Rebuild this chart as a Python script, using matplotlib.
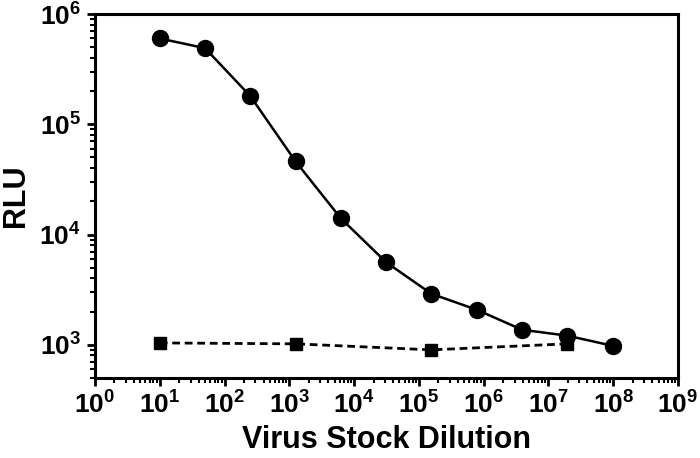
import math
import matplotlib
matplotlib.use("Agg")
import matplotlib.pyplot as plt
from matplotlib.ticker import LogLocator, FuncFormatter, NullFormatter

plt.rcParams['font.family'] = ['Liberation Sans', 'DejaVu Sans']
plt.rcParams['mathtext.fontset'] = 'custom'
plt.rcParams['mathtext.rm'] = 'Liberation Sans:bold'
plt.rcParams['mathtext.bf'] = 'Liberation Sans:bold'
plt.rcParams['mathtext.it'] = 'Liberation Sans:bold'

# Data
virus_dilution = [10, 50, 250, 1250, 6250, 31250, 156250, 781250, 3.9e6, 1.95e7, 9.77e7]
virus_rlu = [6.0e5, 4.9e5, 1.8e5, 4.6e4, 1.4e4, 5.6e3, 2.9e3, 2.08e3, 1.37e3, 1.21e3, 0.98e3]
control_dilution = [10, 1250, 156250, 1.95e7]
control_rlu = [1.04e3, 1.02e3, 0.90e3, 1.02e3]

xlabel = "Virus Stock Dilution"
ylabel = "RLU"

fig = plt.figure(figsize=(7, 4.58), dpi=100)
ax = fig.add_axes([0.1357, 0.1747, 0.8329, 0.7947])

ax.plot(virus_dilution, virus_rlu, color='black', lw=1.8, marker='o', ms=11.5,
        markeredgecolor='black', markerfacecolor='black', zorder=3)
ax.plot(control_dilution, control_rlu, color='black', lw=2.0, ls=(0, (2.8, 1.7)), marker='s',
        ms=8.5, markeredgecolor='black', markerfacecolor='black', zorder=2)

ax.set_xscale('log')
ax.set_yscale('log')
ax.set_xlim(1, 1e9)
ax.set_ylim(500, 1e6)

def fmt(v, pos):
    e = int(round(math.log10(v)))
    return r'$\mathbf{10^{%d}}$' % e

ax.xaxis.set_major_locator(LogLocator(base=10, numticks=20))
ax.yaxis.set_major_locator(LogLocator(base=10, numticks=20))
ax.xaxis.set_minor_locator(LogLocator(base=10, subs=range(2, 10), numticks=20))
ax.yaxis.set_minor_locator(LogLocator(base=10, subs=range(2, 10), numticks=20))
ax.xaxis.set_major_formatter(FuncFormatter(fmt))
ax.yaxis.set_major_formatter(FuncFormatter(fmt))
ax.xaxis.set_minor_formatter(NullFormatter())
ax.yaxis.set_minor_formatter(NullFormatter())

for s in ax.spines.values():
    s.set_linewidth(2.2)

ax.tick_params(which='major', direction='out', length=6, width=2, labelsize=19, pad=4)
ax.tick_params(which='minor', direction='out', length=3.5, width=1.5)

ax.set_xlabel(xlabel, fontsize=22, fontweight='bold', labelpad=4)
ax.set_ylabel(ylabel, fontsize=22, fontweight='bold', labelpad=6)

fig.savefig('out.png', dpi=100)
